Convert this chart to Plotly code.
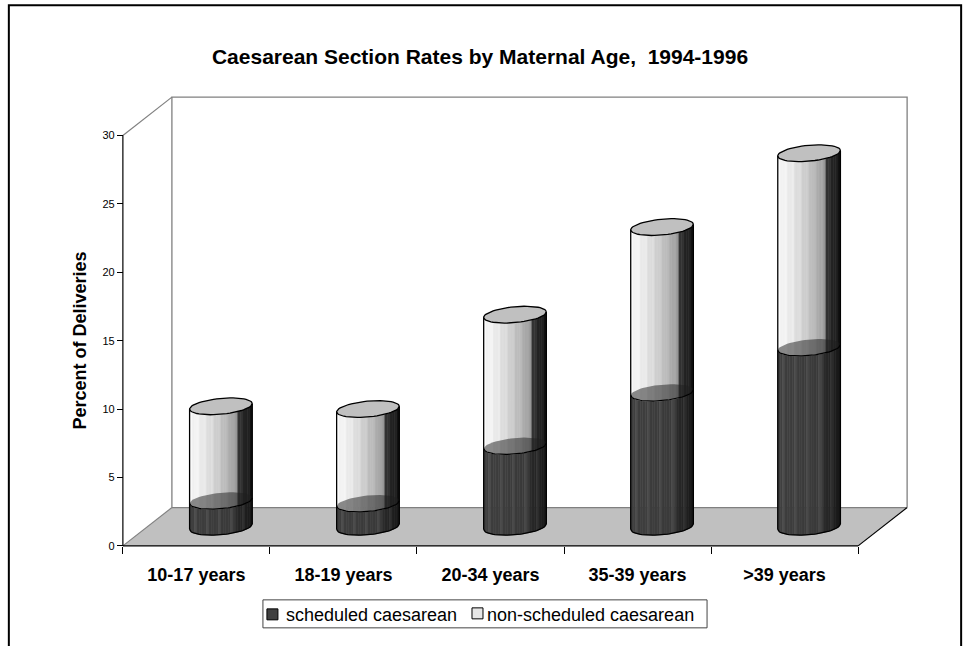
import numpy as np
import plotly.graph_objects as go

# ---------------- data ----------------
categories = ["10-17 years", "18-19 years", "20-34 years", "35-39 years", ">39 years"]
scheduled = [1.9, 1.7, 5.9, 9.8, 13.1]
non_scheduled = [6.9, 6.9, 9.6, 12.1, 14.2]
series_names = ["scheduled caesarean", "non-scheduled caesarean"]
y_ticks = [0, 5, 10, 15, 20, 25, 30]
title_text = "Caesarean Section Rates by Maternal Age,  1994-1996"
y_title = "Percent of Deliveries"

# ---------------- geometry / style ----------------
W, H = 963, 646
FONT = "Liberation Sans, Arial, sans-serif"
NCAT = len(categories)
YMAX = y_ticks[-1]
DX = 1 / 3.0      # depth offset in category units
DY = 2.8          # depth offset in value units
XPAD, YPAD = 0.04, 0.3
R = 0.213         # cylinder radius (category units)
EB = 0.58         # ellipse half height (value units)
SK = 0.2          # ellipse tilt
PX_X, PX_Y = 147.0, 13.69       # pixels per unit
ORIGIN = (123.0, 546.0)          # pixel of front origin

x0, x1 = -XPAD, NCAT + DX + XPAD
y0, y1 = -YPAD, YMAX + DY + YPAD
pw = (x1 - x0) * PX_X
ph = (y1 - y0) * PX_Y
ml = ORIGIN[0] - (0 - x0) * PX_X
mb = H - ORIGIN[1] - (0 - y0) * PX_Y
mr = W - ml - pw
mt = H - mb - ph


def pxx(px):
    return (px - ml) / pw


def pxy(py):
    return (H - mb - py) / ph


fig = go.Figure()


def line_trace(xs, ys, color, width=1.0):
    fig.add_trace(go.Scatter(x=xs, y=ys, mode="lines", line=dict(color=color, width=width),
                             hoverinfo="skip", showlegend=False))


# floor
fig.add_trace(go.Scatter(x=[0, NCAT, NCAT + DX, DX, 0], y=[0, 0, DY, DY, 0], mode="lines",
                         fill="toself", fillcolor="#c0c0c0", line=dict(width=0),
                         hoverinfo="skip", showlegend=False))
GRAY = "#808080"
line_trace([0, DX], [0, DY], GRAY, 1.2)
line_trace([DX, NCAT + DX], [DY, DY], GRAY, 1.2)
line_trace([0, NCAT], [0, 0], "#000000", 1.2)
line_trace([NCAT, NCAT + DX], [0, DY], "#000000", 1.2)
# back wall
line_trace([DX, DX, NCAT + DX, NCAT + DX], [DY, YMAX + DY, YMAX + DY, DY], GRAY, 1.3)
line_trace([0, DX], [YMAX, YMAX + DY], GRAY, 1.2)
# y axis line
line_trace([0, 0], [0, YMAX], "#000000", 1.2)

# cylinders
N = 26
fe = np.linspace(0, 1, N + 1)


def arc(cx, yc, f):
    c = 2 * np.asarray(f) - 1
    s = -np.sqrt(np.clip(1 - c ** 2, 0, 1))
    return cx + R * c, yc + EB * s + SK * c


def ellipse(cx, yc, n=60):
    t = np.linspace(0, 2 * np.pi, n)
    return cx + R * np.cos(t), yc + EB * np.sin(t) + SK * np.cos(t)


def light_col(f, j):
    if f < 0.76:
        v = 248 - 95 * (f / 0.76) ** 1.5
    else:
        v = 56 - 36 * (f - 0.76) / 0.24
    v += (5 if j % 3 == 0 else (-4 if j % 3 == 1 else 0))
    v = int(max(0, min(255, v)))
    return f"rgb({v},{v},{v})"


def dark_col(f, j):
    if f < 0.72:
        v = 64 - 8 * f
    else:
        v = 46 - 22 * (f - 0.72) / 0.28
    if j % 5 == 2:
        v += 14
    v = int(max(0, min(255, v)))
    return f"rgb({v},{v},{v})"


centers = [i + 0.5 + DX / 2 for i in range(NCAT)]
base = DY / 2
seg_bounds = []
for i in range(NCAT):
    b0 = base
    b1 = base + scheduled[i]
    b2 = b1 + non_scheduled[i]
    seg_bounds.append((b0, b1, b2))

for seg, colfn in ((0, dark_col), (1, light_col)):
    for j in range(N):
        fa, fb = fe[j], fe[j + 1]
        fs = np.linspace(fa, fb, 4)
        xs, ys = [], []
        for i in range(NCAT):
            yb, yt = seg_bounds[i][seg], seg_bounds[i][seg + 1]
            bx, by = arc(centers[i], yb, fs)
            tx, ty = arc(centers[i], yt, fs[::-1])
            xs += list(bx) + list(tx) + [bx[0], None]
            ys += list(by) + list(ty) + [by[0], None]
        fig.add_trace(go.Scatter(x=xs, y=ys, mode="lines", fill="toself",
                                 fillcolor=colfn((fa + fb) / 2, j),
                                 line=dict(width=0.6, color=colfn((fa + fb) / 2, j)),
                                 hoverinfo="skip", showlegend=False))

# boundary caps + lines, top caps, outlines
fcurve = np.linspace(0, 1, 40)
for i in range(NCAT):
    cx = centers[i]
    b0, b1, b2 = seg_bounds[i]
    ex, ey = ellipse(cx, b1)
    fig.add_trace(go.Scatter(x=ex, y=ey, mode="lines", fill="toself",
                             fillcolor="rgba(30,30,30,0.5)", line=dict(width=0),
                             hoverinfo="skip", showlegend=False))
    ax_, ay_ = arc(cx, b1, fcurve)
    line_trace(ax_, ay_, "#000000", 1.2)
    ex, ey = ellipse(cx, b2)
    fig.add_trace(go.Scatter(x=ex, y=ey, mode="lines", fill="toself",
                             fillcolor="#c0c0c0", line=dict(width=1.3, color="#000000"),
                             hoverinfo="skip", showlegend=False))
    bx, by = arc(cx, b0, fcurve)
    xs = [cx - R, cx - R, None] + list(bx) + [None, cx + R, cx + R]
    ys = [b2 - SK, b0 - SK, None] + list(by) + [None, b0 + SK, b2 + SK]
    line_trace(xs, ys, "#000000", 1.3)

# ---------------- layout ----------------
shapes = [
    # outer frame
    dict(type="rect", xref="paper", yref="paper", x0=pxx(9), x1=pxx(961), y0=pxy(5), y1=pxy(660),
         line=dict(color="#000000", width=2), fillcolor="rgba(0,0,0,0)"),
    # legend box
    dict(type="rect", xref="paper", yref="paper", x0=pxx(263), x1=pxx(707), y0=pxy(600), y1=pxy(628),
         line=dict(color="#444444", width=1), fillcolor="#ffffff"),
    dict(type="rect", xref="paper", yref="paper", x0=pxx(267), x1=pxx(278), y0=pxy(609), y1=pxy(620),
         line=dict(color="#000000", width=1), fillcolor="#404040"),
    dict(type="rect", xref="paper", yref="paper", x0=pxx(472), x1=pxx(483), y0=pxy(608), y1=pxy(619),
         line=dict(color="#000000", width=1), fillcolor="#e6e6e6"),
]
annotations = [
    dict(text=series_names[0], xref="paper", yref="paper", x=pxx(284), y=pxy(615), xanchor="left",
         yanchor="middle", showarrow=False, font=dict(family=FONT, size=18, color="#000")),
    dict(text=series_names[1], xref="paper", yref="paper", x=pxx(485), y=pxy(615), xanchor="left",
         yanchor="middle", showarrow=False, font=dict(family=FONT, size=18, color="#000")),
    dict(text=y_title, xref="paper", yref="y", x=pxx(80), y=YMAX / 2, textangle=-90,
         xanchor="center", yanchor="middle", showarrow=False,
         font=dict(family=FONT, size=18, color="#000", weight="bold")),
]

fig.update_layout(
    width=W, height=H,
    margin=dict(l=ml, r=mr, t=mt, b=mb, pad=0),
    paper_bgcolor="#ffffff", plot_bgcolor="rgba(0,0,0,0)",
    showlegend=False,
    title=dict(text=title_text, x=480 / W, xref="container", xanchor="center",
               y=1 - 57 / H, yref="container", yanchor="middle",
               font=dict(family=FONT, size=21, color="#000", weight="bold")),
    xaxis=dict(range=[x0, x1], showgrid=False, zeroline=False, showline=False,
               anchor="free", position=(0 - y0) / (y1 - y0),
               tickmode="array", tickvals=[i + 0.5 for i in range(NCAT)], ticktext=categories,
               ticks="", ticklabelstandoff=16,
               tickfont=dict(family=FONT, size=18, color="#000", weight="bold"),
               minor=dict(tickmode="array", tickvals=list(range(NCAT + 1)), ticks="outside",
                          ticklen=7, tickcolor="#000", tickwidth=1, showgrid=False)),
    yaxis=dict(range=[y0, y1], showgrid=False, zeroline=False, showline=False,
               anchor="free", position=(0 - x0) / (x1 - x0),
               tickmode="array", tickvals=y_ticks, ticks="outside", ticklen=6,
               tickcolor="#000", tickwidth=1,
               tickfont=dict(family=FONT, size=11, color="#000")),
    shapes=shapes,
    annotations=annotations,
)

fig.write_html("out.html", config={"displayModeBar": False, "staticPlot": True},
               post_script="document.body.style.margin='0px';document.body.style.overflow='hidden';")
